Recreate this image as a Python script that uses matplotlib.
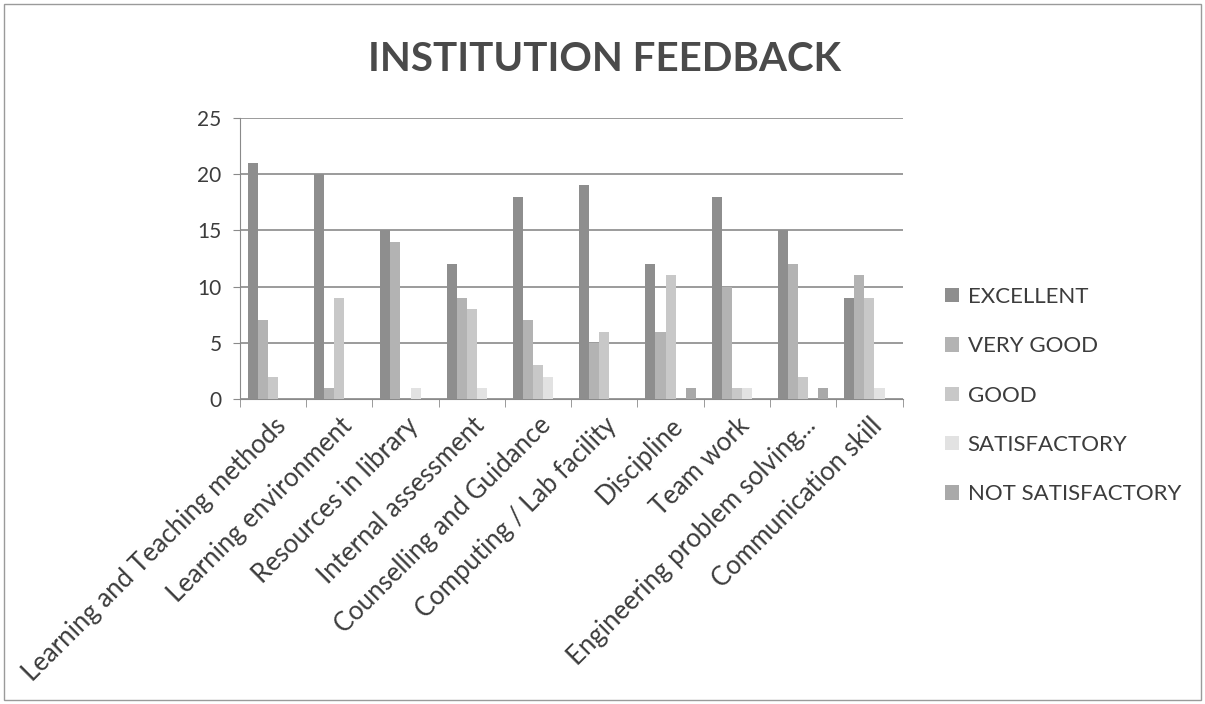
import numpy as np
import matplotlib
matplotlib.use("Agg")
import matplotlib.pyplot as plt
from matplotlib.patches import Rectangle

categories = ["Learning and Teaching methods", "Learning environment",
              "Resources in library", "Internal assessment",
              "Counselling and Guidance", "Computing / Lab facility",
              "Discipline", "Team work", "Engineering problem solving...",
              "Communication skill"]
series_names = ["EXCELLENT", "VERY GOOD", "GOOD", "SATISFACTORY", "NOT SATISFACTORY"]
excellent = [21, 20, 15, 12, 18, 19, 12, 18, 15, 9]
very_good = [7, 1, 14, 9, 7, 5, 6, 10, 12, 11]
good = [2, 9, 0, 8, 3, 6, 11, 1, 2, 9]
satisfactory = [0, 0, 1, 1, 2, 0, 0, 1, 0, 1]
not_satisfactory = [0, 0, 0, 0, 0, 0, 1, 0, 1, 0]
yticks = [0, 5, 10, 15, 20, 25]

colors = ["#8e8e8e", "#b3b3b3", "#c8c8c8", "#e2e2e2", "#a9a9a9"]
txt = "#3c3c3c"
plt.rcParams["font.family"] = ["Lato", "DejaVu Sans"]

fig = plt.figure(figsize=(12.05, 7.04), dpi=100)
fig.patches.append(Rectangle((0.003, 0.005), 0.994, 0.99, transform=fig.transFigure,
                             fill=False, edgecolor="#9a9a9a", linewidth=1))
ax = fig.add_axes([0.199, 0.4332, 0.55, 0.3992])

x = np.arange(len(categories))
w = 0.152
all_series = [excellent, very_good, good, satisfactory, not_satisfactory]
for i, (vals, name) in enumerate(zip(all_series, series_names)):
    ax.bar(x + (i - 2) * w, vals, width=w, color=colors[i], label=name, zorder=3)

ax.set_xlim(-0.5, len(categories) - 0.5)
ax.set_ylim(0, 25)
ax.set_yticks(yticks)
ax.yaxis.grid(True, color="#8a8a8a", linewidth=1.2, zorder=0)
for s in ["top", "right"]:
    ax.spines[s].set_visible(False)
ax.spines["left"].set_color("#8a8a8a")
ax.spines["bottom"].set_color("#8a8a8a")
ax.tick_params(axis="y", labelsize=15, colors="#8a8a8a", labelcolor=txt, length=5, pad=8)

ax.set_xticks(x)
ax.set_xticklabels(categories, rotation=45, ha="right", rotation_mode="anchor",
                   fontsize=18.5, color=txt)
ax.tick_params(axis="x", which="major", length=0, pad=10)
ax.set_xticks(np.arange(-0.5, len(categories), 1), minor=True)
ax.tick_params(axis="x", which="minor", length=6, color="#8a8a8a")

fig.text(0.502, 0.915, "INSTITUTION FEEDBACK", ha="center", va="center",
         fontsize=29, fontweight="bold", color="#4a4a4a")

leg = ax.legend(loc="center left", bbox_to_anchor=(0.768, 0.438), bbox_transform=fig.transFigure,
                frameon=False, fontsize=16, labelspacing=1.32, handlelength=0.6,
                handleheight=0.6, handletextpad=0.4)
for t in leg.get_texts():
    t.set_color(txt)

fig.savefig("out.png", dpi=100)
